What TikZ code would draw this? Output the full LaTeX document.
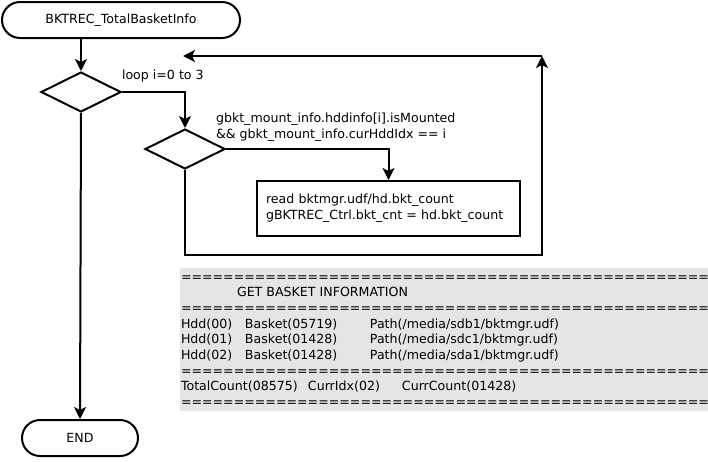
\documentclass[tikz,border=0pt]{standalone}
\usepackage{fontspec}
\setmainfont{DejaVu Sans}
\usetikzlibrary{shapes.geometric,shapes.misc,arrows.meta}
\definecolor{panelgray}{RGB}{229,229,229}
\begin{document}
\begin{tikzpicture}[x=1pt,y=1pt,
  font=\fontsize{12.6}{15.7}\selectfont,
  line width=2pt,
  arr/.style={-{Stealth[length=12pt,width=12pt,inset=3pt]}},
  term/.style={rounded rectangle,draw,inner sep=0pt,minimum height=36pt},
  dec/.style={diamond,draw,inner sep=0pt,minimum width=80pt,minimum height=40pt},
  proc/.style={rectangle,draw,inner xsep=9pt,inner ysep=0pt,text width=245pt,minimum height=55pt,align=left},
  lbl/.style={inner sep=0pt,anchor=base west,align=left}
]
\useasboundingbox (0,0) rectangle (708,-461);
\node[term,minimum width=238pt] (start) at (121,-20) {BKTREC\_TotalBasketInfo};
\node[dec] (d1) at (81,-92) {};
\node[dec] (d2) at (185,-149) {};
\node[proc] (box) at (388.5,-208.5) {read bktmgr.udf/hd.bkt\_count\\gBKTREC\_Ctrl.bkt\_cnt = hd.bkt\_count};
\node[term,minimum width=116pt] (end) at (80,-438) {END};
\node[lbl] (l1) at (121,-79) {loop i=0 to 3};
\node[lbl] (l2) at (215,-138.5) {gbkt\_mount\_info.hddinfo[i].isMounted\\\&\& gbkt\_mount\_info.curHddIdx == i};
\coordinate (loopR) at (542,-255);
\coordinate (loopT) at (542,-56);
\coordinate (loopL) at (183,-56);

\draw[arr] (d1|-start.south) -- (d1.north);
\draw[arr] (d1.east) -| (d2.north);
\draw[arr] (d2.east) -| (box.north);
\draw[arr] (d2.south) |- (loopR) -- (loopT);
\draw[arr] (loopT) -- (loopL);
\draw[arr] (d1.south) -- (end.north);

\begin{scope}
\clip (180,-268) rectangle (708,-411);
\fill[panelgray] (180,-268) rectangle (708,-411);
\def\eqline{==================================================}
\node[inner sep=0pt,anchor=base west,align=left] (log) at (180,-406.6) {%
\eqline\\
\hspace*{56pt}GET BASKET INFORMATION\\
\eqline\\
\makebox[64pt][l]{Hdd(00)}\makebox[125pt][l]{Basket(05719)}Path(/media/sdb1/bktmgr.udf)\\
\makebox[64pt][l]{Hdd(01)}\makebox[125pt][l]{Basket(01428)}Path(/media/sdc1/bktmgr.udf)\\
\makebox[64pt][l]{Hdd(02)}\makebox[125pt][l]{Basket(01428)}Path(/media/sda1/bktmgr.udf)\\
\eqline\\
\makebox[127pt][l]{TotalCount(08575)}\makebox[94pt][l]{CurrIdx(02)}CurrCount(01428)\\
\eqline};
\end{scope}
\end{tikzpicture}
\end{document}
